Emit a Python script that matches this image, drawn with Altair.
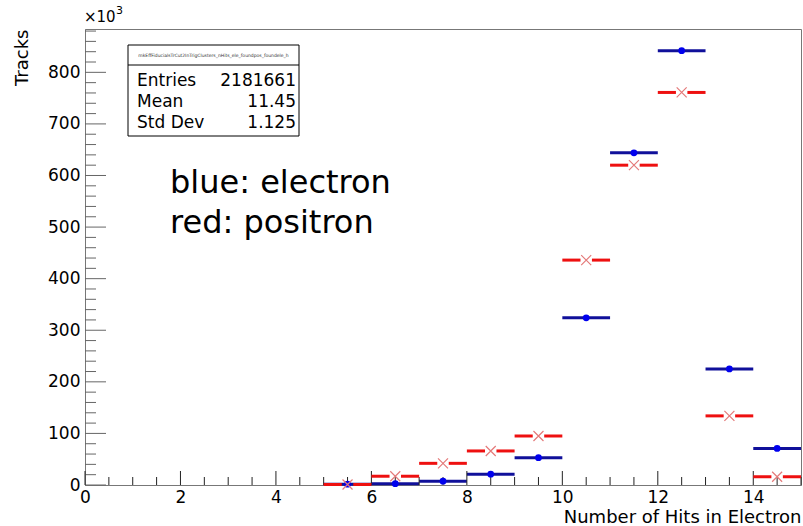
import altair as alt
import pandas as pd

# Histogram bins (lower edges) and contents in units of 10^3 tracks
bin_low = [5, 6, 7, 8, 9, 10, 11, 12, 13, 14]
electron_k = [1.5, 2.5, 7.5, 21, 53, 324, 644, 842, 225, 71]
positron_k = [1.0, 17, 42, 66, 95, 436, 620, 761, 134, 16]

# Axis tick positions
x_major = [0, 2, 4, 6, 8, 10, 12, 14]
x_minor = [v / 2 for v in range(1, 31) if v % 4 != 0]
y_major = [0, 100, 200, 300, 400, 500, 600, 700, 800]
y_minor = [v for v in range(20, 884, 20) if v % 100 != 0]

# Stats box contents
stats_title = "mkEffFiducialsTrCut2InTrigClusters_nHits_ele_foundpos_foundele_h"
stats_names = ["Entries", "Mean", "Std Dev"]
stats_values = ["2181661", "11.45", "1.125"]

legend_lines = ["blue: electron", "red: positron"]

W, H = 716, 456
FONT = "DejaVu Sans"
BLUE_BAR = "#10109a"
BLUE_DOT = "#0000ee"
RED_BAR = "#ee1010"
RED_X = "#e47a7a"
GAP = 0.12

df = pd.DataFrame({"lo": bin_low, "electron": electron_k, "positron": positron_k})

xs = alt.Scale(domain=[0, 15], nice=False, zero=False)
ys = alt.Scale(domain=[0, 884], nice=False, zero=True)

x_axis = alt.Axis(
    values=x_major, ticks=False, grid=False, labelFlush=False,
    labelFont=FONT, labelFontSize=17, labelColor="black", labelPadding=4,
    domainColor="#777", domainWidth=1,
    title="Number of Hits in Electron", titleFont=FONT, titleFontSize=18,
    titleFontWeight="normal", titleColor="black", titleAnchor="end",
    titleAlign="right", titleX=W, titleY=37, titleBaseline="alphabetic",
)
y_axis = alt.Axis(
    values=y_major, ticks=False, grid=False, format="d",
    labelFont=FONT, labelFontSize=17, labelColor="black", labelPadding=5,
    domainColor="#777", domainWidth=1,
    title="Tracks", titleFont=FONT, titleFontSize=18,
    titleFontWeight="normal", titleColor="black", titleAngle=270,
    titleAlign="right", titleBaseline="middle", titleX=-63, titleY=0,
)


def X(field):
    return alt.X(field, scale=xs, axis=x_axis)


def Y(field):
    return alt.Y(field, scale=ys, axis=y_axis)


base = alt.Chart(df).transform_calculate(
    hi="datum.lo + 1",
    c="datum.lo + 0.5",
    gl="datum.lo + 0.5 - %f" % GAP,
    gr="datum.lo + 0.5 + %f" % GAP,
)

# Electron: dark-blue bin-width bars with filled circles
e_bar = base.mark_rule(color=BLUE_BAR, strokeWidth=3).encode(
    x=X("lo:Q"), x2="hi:Q", y=Y("electron:Q"),
)
e_dot = base.mark_point(filled=True, shape="circle", size=46, color=BLUE_DOT, opacity=1).encode(
    x=X("c:Q"), y=Y("electron:Q"),
)

# Positron: red bars split around an open cross marker
p_left = base.mark_rule(color=RED_BAR, strokeWidth=3).encode(
    x=X("lo:Q"), x2="gl:Q", y=Y("positron:Q"),
)
p_right = base.mark_rule(color=RED_BAR, strokeWidth=3).encode(
    x=X("gr:Q"), x2="hi:Q", y=Y("positron:Q"),
)
p_x = base.mark_point(
    shape="M-1,-1L1,1M-1,1L1,-1", size=100, filled=False, color=RED_X,
    strokeWidth=1.2, opacity=1,
).encode(x=X("c:Q"), y=Y("positron:Q"))


# Inward tick marks
def y_ticks(vals, length, color):
    return alt.Chart(pd.DataFrame({"v": vals})).mark_rule(color=color, strokeWidth=1).encode(
        y=Y("v:Q"), x=alt.value(0), x2=alt.value(length)
    )


def x_ticks(vals, length, color):
    return alt.Chart(pd.DataFrame({"v": vals})).mark_rule(color=color, strokeWidth=1).encode(
        x=X("v:Q"), y=alt.value(H), y2=alt.value(H - length)
    )


ticks = [
    y_ticks(y_major, 21, "#666"),
    y_ticks(y_minor, 11, "#666"),
    x_ticks(x_major, 14, "#222"),
    x_ticks(x_minor, 8, "#222"),
]


def label(text, x, y, size, align="left", color="black", baseline="alphabetic"):
    return alt.Chart(pd.DataFrame({"t": [text]})).mark_text(
        font=FONT, fontSize=size, align=align, baseline=baseline, color=color
    ).encode(text="t:N", x=alt.value(x), y=alt.value(y))


# Exponent label above the y axis
exp_main = label("\u00d710", -1, -7, 15)
exp_pow = label("3", 31, -15, 11)

# Stats box
BX0, BX1, BY0, BY1 = 43, 214, 16, 107
box = alt.Chart(pd.DataFrame({"k": [0]})).mark_rect(
    fill="white", stroke="black", strokeWidth=1
).encode(x=alt.value(BX0), x2=alt.value(BX1), y=alt.value(BY0), y2=alt.value(BY1))
box_line = alt.Chart(pd.DataFrame({"k": [0]})).mark_rule(color="black", strokeWidth=1).encode(
    x=alt.value(BX0), x2=alt.value(BX1), y=alt.value(BY0 + 20)
)
box_title = label(stats_title, (BX0 + BX1) / 2, BY0 + 11, 4.5, align="center",
                  color="#333", baseline="middle")

stat_rows = []
for i, (name, val) in enumerate(zip(stats_names, stats_values)):
    yy = BY0 + 41 + 21 * i
    stat_rows.append(label(name, BX0 + 9, yy, 17))
    stat_rows.append(label(val, BX1 - 3, yy, 17, align="right"))

# Legend text
legend = [label(t, 85, 164 + 40 * i, 32) for i, t in enumerate(legend_lines)]

chart = alt.layer(
    e_bar, *ticks, p_left, p_right, e_dot, p_x,
    exp_main, exp_pow, box, box_line, box_title, *stat_rows, *legend,
).properties(
    width=W, height=H,
    padding={"left": 85, "top": 29, "right": 2, "bottom": 41},
    autosize=alt.AutoSizeParams(type="none"),
    background="white",
).configure_view(stroke="#777", strokeWidth=1)

chart.save("out.html", embed_options={"renderer": "svg", "actions": False})
